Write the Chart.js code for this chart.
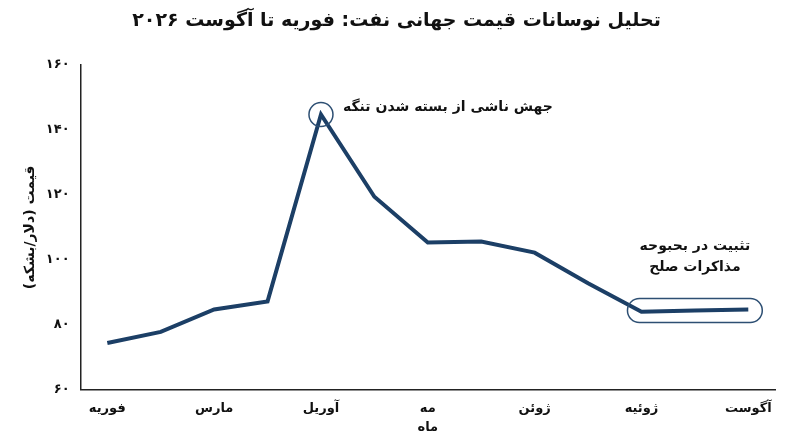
<!DOCTYPE html>
<html><head><meta charset="utf-8">
<script src="https://cdn.jsdelivr.net/npm/chart.js@4"></script>
<style>body{margin:0;background:#fff}#w{width:800px;height:447px}</style>
</head><body><div id="w"><canvas id="c"></canvas></div>
<script>
const categories=['فوریه','','مارس','','آوریل','','مه','','ژوئن','','ژوئیه','','آگوست'];
const prices=[74.4,77.8,84.7,87.2,144.7,119.4,105.3,105.6,102.2,92.8,84,84.4,84.7];
const yTicks={60:'۶۰',80:'۸۰',100:'۱۰۰',120:'۱۲۰',140:'۱۴۰',160:'۱۶۰'};
const F='"DejaVu Sans", "Noto Sans", sans-serif';
const ann={id:'ann',afterDatasetsDraw(ch){
 const x=ch.scales.x,y=ch.scales.y,c=ch.ctx;c.save();
 c.strokeStyle='#2d4f73';c.lineWidth=1.5;
 const px=x.getPixelForValue(4),py=y.getPixelForValue(prices[4]);
 c.beginPath();c.arc(px,py,12,0,Math.PI*2);c.stroke();
 c.fillStyle='#111';c.font='bold 14px '+F;c.textAlign='left';c.textBaseline='middle';
 c.fillText('جهش ناشی از بسته شدن تنگه',px+22,py-7);
 const x1=x.getPixelForValue(10)-14,x2=x.getPixelForValue(12)+14,yy=y.getPixelForValue(84.4);
 c.beginPath();c.roundRect(x1,yy-12,x2-x1,24,12);c.stroke();
 c.textAlign='center';c.fillText('تثبیت در بحبوحه',(x.getPixelForValue(11)),yy-64);
 c.fillText('مذاکرات صلح',(x.getPixelForValue(11)),yy-43);
 c.restore();}};
new Chart(document.getElementById('c'),{type:'line',
 data:{labels:categories,datasets:[{data:prices,borderColor:'#1c3f66',borderWidth:4,pointRadius:0,tension:0}]},
 options:{responsive:true,maintainAspectRatio:false,animation:false,
  layout:{padding:{left:18,right:25,top:0,bottom:12}},
  plugins:{legend:{display:false},tooltip:{enabled:false},
   title:{display:true,text:'تحلیل نوسانات قیمت جهانی نفت: فوریه تا آگوست ۲۰۲۶',font:{family:F,size:19,weight:'bold'},color:'#111',padding:{top:10,bottom:32}}},
  scales:{
   x:{offset:true,grid:{display:false,drawTicks:true,tickColor:'#222'},border:{color:'#222',width:1.5},
    ticks:{autoSkip:false,maxRotation:0,color:'#111',font:{family:F,size:13,weight:'bold'}},
    title:{display:true,text:'ماه',color:'#111',font:{family:F,size:13,weight:'bold'},padding:0}},
   y:{min:60,max:160,grid:{display:false,tickColor:'#222'},border:{color:'#222',width:1.5},
    ticks:{stepSize:20,color:'#111',font:{family:F,size:13,weight:'bold'},callback:v=>yTicks[v]},
    title:{display:true,text:'قیمت (دلار/بشکه)',color:'#111',font:{family:F,size:14,weight:'bold'}}}}},
 plugins:[ann]});
</script></body></html>
